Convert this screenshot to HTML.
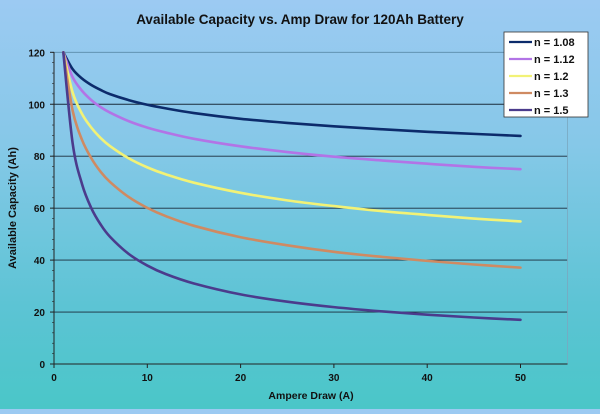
<!DOCTYPE html>
<html><head><meta charset="utf-8"><style>
html,body{margin:0;padding:0;}
body{width:600px;height:409px;overflow:hidden;background:linear-gradient(#9ccaf2 0%,#86c8e8 35%,#5cc4d4 75%,#4ac6c8 100%);font-family:"Liberation Sans",sans-serif;}
svg text{font-family:"Liberation Sans",sans-serif;font-weight:bold;fill:#111;}
</style></head><body>
<svg id="chart" width="600" height="409" xmlns="http://www.w3.org/2000/svg">
<text x="300" y="24" text-anchor="middle" font-size="13.5">Available Capacity vs. Amp Draw for 120Ah Battery</text>
<text x="311" y="399" text-anchor="middle" font-size="10.5">Ampere Draw (A)</text>
<text transform="translate(16,208) rotate(-90)" text-anchor="middle" font-size="11">Available Capacity (Ah)</text>
<g id="grid"></g><g id="axes"></g><g id="series"></g>
<g id="legend">
<rect x="504" y="32" width="84" height="85" fill="#fff" stroke="#333" stroke-width="0.8"/>
</g>
</svg>
<script>
const xValues=[1,2,3,4,5,6,8,10,12,15,20,25,30,35,40,45,50];
const seriesNames=["n = 1.08","n = 1.12","n = 1.2","n = 1.3","n = 1.5"];
const s108=[120,113.5,109.9,107.4,105.5,103.9,101.6,99.8,98.4,96.6,94.4,92.8,91.5,90.4,89.4,88.6,87.8];
const s112=[120,110.4,105.2,101.6,98.9,96.8,93.5,91.0,89.1,86.7,83.8,81.6,79.8,78.4,77.1,75.9,75.0];
const s12=[120,104.5,96.3,91.0,87.0,83.9,79.2,75.7,73.0,69.8,65.9,63.0,60.8,58.9,57.4,56.0,54.9];
const s13=[120,97.5,86.3,79.2,74.0,70.1,64.3,60.1,56.9,53.2,48.8,45.7,43.2,41.3,39.7,38.3,37.1];
const s15=[120,84.9,69.3,60,53.7,49.0,42.4,37.9,34.6,31.0,26.8,24,21.9,20.3,19.0,17.9,17.0];
const xTicks=[0,10,20,30,40,50];
const yTicks=[0,20,40,60,80,100,120];
const allSeries=[s108,s112,s12,s13,s15];
const colors=["#0c2b6b","#b274e6","#f2f276","#cf8a62","#4b3b8c"];
const NS="http://www.w3.org/2000/svg";
const X0=54,X1=567.5,Y0=364,Y1=52.3;
const xs=v=>X0+v*(520.5-X0)/50;
const ys=v=>Y0-v*(Y0-Y1)/120;
function mk(t,a,p){const e=document.createElementNS(NS,t);for(const k in a)e.setAttribute(k,a[k]);p.appendChild(e);return e;}
const grid=document.getElementById('grid'),axes=document.getElementById('axes'),ser=document.getElementById('series'),leg=document.getElementById('legend');
yTicks.forEach(t=>{
 if(t>0){const l=mk('line',{x1:X0,x2:X1,y1:ys(t),y2:ys(t),stroke:t==120?'#5a8aa8':'#1a2a3a','stroke-width':0.9},grid);
 
 }
 const tx=mk('text',{x:X0-9,y:ys(t)+4,'text-anchor':'end','font-size':10},axes);tx.textContent=t;
 
 
 mk('line',{x1:X0-4,x2:X0,y1:ys(t),y2:ys(t),stroke:'#222'},axes);
});
for(let v=0;v<=120;v+=4)mk('line',{x1:X0-2,x2:X0,y1:ys(v),y2:ys(v),stroke:'#222','stroke-width':0.6},axes);
mk('line',{x1:X1,x2:X1,y1:Y1,y2:Y0,stroke:'#7aa8c0','stroke-width':0.8},axes);
mk('line',{x1:X0,x2:X0,y1:Y1,y2:Y0,stroke:'#222'},axes);
mk('line',{x1:X0,x2:X1,y1:Y0,y2:Y0,stroke:'#222'},axes);
xTicks.forEach(t=>{
 mk('line',{x1:xs(t),x2:xs(t),y1:Y0,y2:Y0+4,stroke:'#222'},axes);
 const tx=mk('text',{x:xs(t),y:Y0+17,'text-anchor':'middle','font-size':10},axes);tx.textContent=t;
 
 
});
function pathD(pts){let d='M'+pts[0][0]+','+pts[0][1];
 for(let i=0;i<pts.length-1;i++){const p0=pts[Math.max(0,i-1)],p1=pts[i],p2=pts[i+1],p3=pts[Math.min(pts.length-1,i+2)];
 const c1=[p1[0]+(p2[0]-p0[0])/6,p1[1]+(p2[1]-p0[1])/6],c2=[p2[0]-(p3[0]-p1[0])/6,p2[1]-(p3[1]-p1[1])/6];
 d+=' C'+c1+' '+c2+' '+p2;}return d;}
allSeries.forEach((s,i)=>{
 const pts=s.map((v,j)=>[xs(xValues[j]),ys(v)]);
 const p=mk('path',{d:pathD(pts),fill:'none',stroke:colors[i],'stroke-width':2.6,'stroke-linecap':'round'},ser);
 
 
 const y=42+i*17;
 mk('line',{x1:509,x2:532,y1:y,y2:y,stroke:colors[i],'stroke-width':2.2},leg);
 const t=mk('text',{x:534,y:y+4,'font-size':11},leg);t.textContent=seriesNames[i];
 
 
});
</script>
</body></html>
